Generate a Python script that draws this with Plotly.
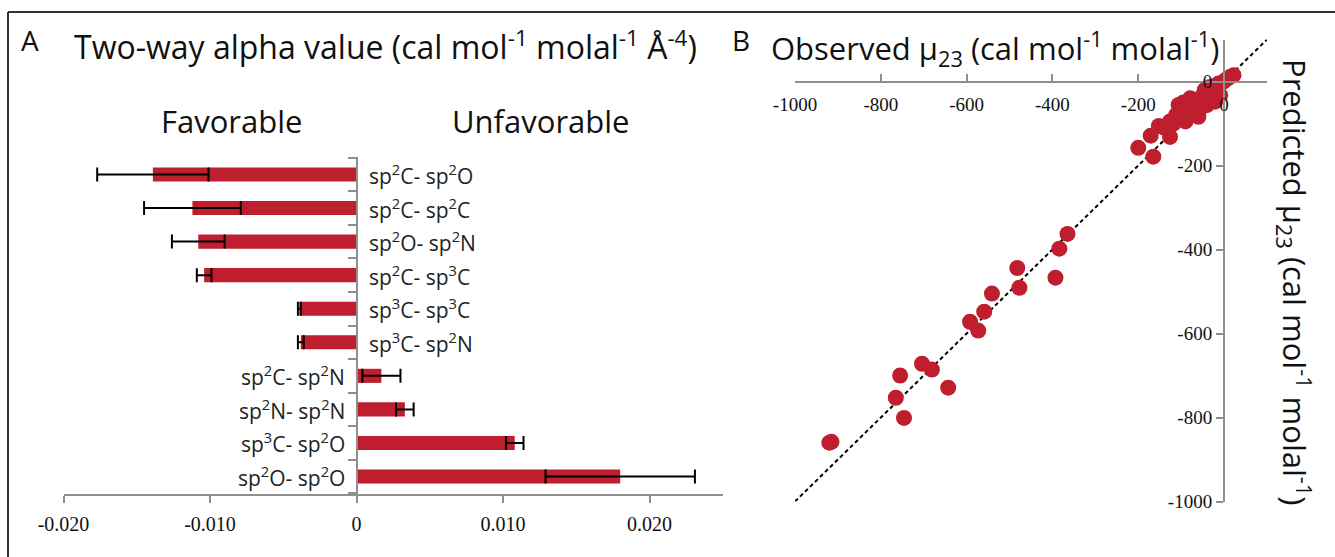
import plotly.graph_objects as go

# ---------------- Panel A data ----------------
categories = ["sp<sup>2</sup>C- sp<sup>2</sup>O", "sp<sup>2</sup>C- sp<sup>2</sup>C", "sp<sup>2</sup>O- sp<sup>2</sup>N",
              "sp<sup>2</sup>C- sp<sup>3</sup>C", "sp<sup>3</sup>C- sp<sup>3</sup>C", "sp<sup>3</sup>C- sp<sup>2</sup>N",
              "sp<sup>2</sup>C- sp<sup>2</sup>N", "sp<sup>2</sup>N- sp<sup>2</sup>N", "sp<sup>3</sup>C- sp<sup>2</sup>O",
              "sp<sup>2</sup>O- sp<sup>2</sup>O"]
alpha = [-0.0139, -0.0112, -0.0108, -0.0104, -0.0039, -0.0038, 0.0017, 0.0033, 0.0108, 0.0180]
alpha_err = [0.0038, 0.0033, 0.0018, 0.0005, 0.0001, 0.0002, 0.0013, 0.0006, 0.0006, 0.0051]
a_tickvals = [-0.02, -0.01, 0, 0.01, 0.02]
a_ticktext = ["-0.020", "-0.010", "0", "0.010", "0.020"]

# ---------------- Panel B data ----------------
observed = [-920, -915, -755, -765, -746, -704, -681, -643, -592, -573, -559, -541, -482, -477, -393, -384, -365,
            -200, -165, -171, -152, -126, -118, -126, -106, -99, -112, -87, -79, -72, -60, -52, -40, -29, -33,
            -13, -2, 14, 22, -9, -21, -33, -29, -95, -85, -65, -45, -20, 5, -140, -90, -50]
predicted = [-860, -858, -700, -753, -801, -672, -686, -729, -572, -593, -548, -505, -444, -491, -467, -398, -363,
             -158, -179, -129, -106, -132, -100, -95, -56, -72, -80, -84, -40, -64, -84, -36, -56, -29, -13,
             -5, -1, 11, 15, -33, -48, -48, -25, -50, -60, -45, -20, -10, 5, -110, -95, -60]
b_tickvals = [-1000, -800, -600, -400, -200, 0]
b_ticktext = ["-1000", "-800", "-600", "-400", "-200", "0"]
identity = [-1000, 100]

W, H = 1335, 557
RED = "#BE1E2D"
GRAY = "#8f8f8f"
SERIF = "Liberation Serif"
SANS = "Open Sans"


def px(x):
    return x / W


def py(y):
    return 1 - y / H


fig = go.Figure()

fig.add_trace(go.Bar(
    x=alpha, y=categories, orientation="h",
    marker=dict(color=RED, line=dict(width=0)),
    error_x=dict(type="data", array=alpha_err, visible=True, color="black", thickness=2, width=7),
    xaxis="x", yaxis="y", showlegend=False,
))

fig.add_trace(go.Scatter(
    x=identity, y=identity, mode="lines",
    line=dict(color="black", width=2, dash="4px,3px"),
    xaxis="x2", yaxis="y2", showlegend=False,
))
fig.add_trace(go.Scatter(
    x=observed, y=predicted, mode="markers",
    marker=dict(color=RED, size=16, line=dict(width=0)),
    xaxis="x2", yaxis="y2", showlegend=False,
))

# Panel A category labels placed beside the zero axis
annotations = []
for c, v in zip(categories, alpha):
    annotations.append(dict(
        x=0, y=c, xref="x", yref="y", text=c, showarrow=False,
        xanchor="left" if v < 0 else "right", xshift=10 if v < 0 else -10,
        font=dict(family=SANS, size=21, color="#222"),
    ))

annotations += [
    dict(x=px(30), y=py(40), xref="paper", yref="paper", text="A", showarrow=False,
         font=dict(family=SANS, size=28, color="#111"), xanchor="center", yanchor="middle"),
    dict(x=px(385), y=py(45), xref="paper", yref="paper",
         text="Two-way alpha value (cal mol<sup>-1</sup> molal<sup>-1</sup> Å<sup>-4</sup>)",
         showarrow=False, font=dict(family=SANS, size=32, color="#111"), xanchor="center", yanchor="middle"),
    dict(x=px(231), y=py(121), xref="paper", yref="paper", text="Favorable", showarrow=False,
         font=dict(family=SANS, size=31, color="#111"), xanchor="center", yanchor="middle"),
    dict(x=px(541), y=py(121), xref="paper", yref="paper", text="Unfavorable", showarrow=False,
         font=dict(family=SANS, size=31, color="#111"), xanchor="center", yanchor="middle"),
    dict(x=px(741), y=py(40), xref="paper", yref="paper", text="B", showarrow=False,
         font=dict(family=SANS, size=28, color="#111"), xanchor="center", yanchor="middle"),
    dict(x=px(995), y=py(48), xref="paper", yref="paper",
         text="Observed μ<sub>23</sub> (cal mol<sup>-1</sup> molal<sup>-1</sup>)",
         showarrow=False, font=dict(family=SANS, size=31, color="#111"), xanchor="center", yanchor="middle"),
    dict(x=px(1294), y=py(282), xref="paper", yref="paper",
         text="Predicted μ<sub>23</sub> (cal mol<sup>-1</sup> molal<sup>-1</sup>)",
         showarrow=False, textangle=90, font=dict(family=SANS, size=31, color="#111"),
         xanchor="center", yanchor="middle"),
]

shapes = [
    dict(type="line", xref="paper", yref="paper", x0=px(8), x1=1.01, y0=py(12), y1=py(12),
         line=dict(color="#333", width=2)),
    dict(type="line", xref="paper", yref="paper", x0=px(8), x1=px(8), y0=py(12), y1=-0.01,
         line=dict(color="#333", width=2)),
]

# Panel A geometry
xA0, xA1 = px(63.5), px(722.75)
yA0, yA1 = py(494), py(157)
zeroA = px(356.5)
# Panel B geometry
xB0, xB1 = px(795), px(1267)
yB0, yB1 = py(501.5), py(39.5)
zeroBx = px(1224)
zeroBy = py(81.5)

fig.update_layout(
    width=W, height=H, margin=dict(l=0, r=0, t=0, b=0, autoexpand=False),
    paper_bgcolor="white", plot_bgcolor="white",
    bargap=0.58,
    xaxis=dict(domain=[xA0, xA1], range=[-0.020, 0.025], anchor="y", automargin=False,
               showline=True, linecolor=GRAY, linewidth=2, showgrid=False, zeroline=False,
               ticks="outside", ticklen=7, tickcolor=GRAY, tickwidth=2, ticklabelstandoff=4,
               tickvals=a_tickvals, ticktext=a_ticktext,
               tickfont=dict(family=SERIF, size=20, color="#111")),
    yaxis=dict(domain=[yA0, yA1], anchor="free", position=zeroA, automargin=False,
               categoryorder="array", categoryarray=categories[::-1],
               showline=True, linecolor=GRAY, linewidth=2, showgrid=False, zeroline=False,
               ticks="outside", tickson="boundaries", ticklen=8, tickcolor=GRAY, tickwidth=2,
               showticklabels=False),
    xaxis2=dict(domain=[xB0, xB1], range=[-1000, 100], anchor="free", position=zeroBy, side="bottom",
                automargin=False,
                showline=True, linecolor=GRAY, linewidth=2, showgrid=False, zeroline=False,
                ticks="inside", ticklen=7, tickcolor=GRAY, tickwidth=2, ticklabelstandoff=6,
                tickvals=b_tickvals, ticktext=b_ticktext,
                tickfont=dict(family=SERIF, size=19, color="#111")),
    yaxis2=dict(domain=[yB0, yB1], range=[-1000, 100], anchor="free", position=zeroBx, side="left",
                automargin=False,
                showline=True, linecolor=GRAY, linewidth=2, showgrid=False, zeroline=False,
                ticks="outside", ticklen=7, tickcolor=GRAY, tickwidth=2,
                tickvals=b_tickvals, ticktext=b_ticktext,
                tickfont=dict(family=SERIF, size=19, color="#111")),
    annotations=annotations,
    shapes=shapes,
)

fig.write_html("out.html", config={"displayModeBar": False},
               post_script="document.body.style.margin='0';")
